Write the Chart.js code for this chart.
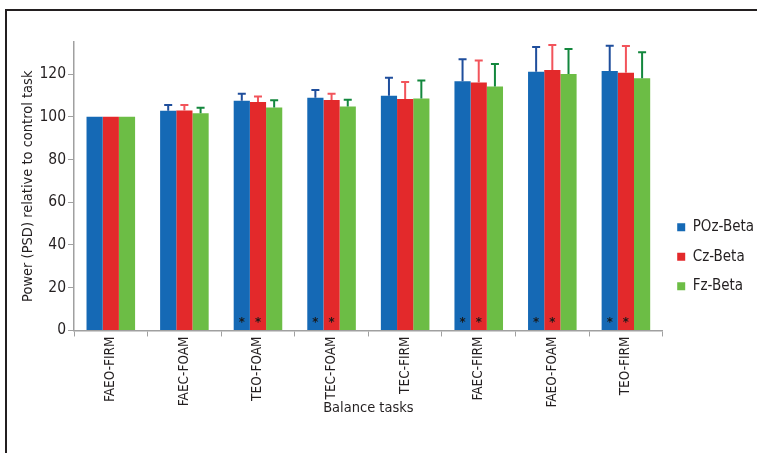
<!DOCTYPE html>
<html>
<head>
<meta charset="utf-8">
<script src="https://cdn.jsdelivr.net/npm/chart.js@4.4.1/dist/chart.umd.min.js"></script>
<style>
  body { margin: 0; background: #fff; }
  #wrap { position: relative; width: 757px; height: 453px; }
  #frame { position: absolute; left: 5px; top: 9px; right: 0; bottom: 0;
           border-left: 2px solid #231f20; border-top: 2px solid #231f20; }
  canvas { position: absolute; left: 0; top: 0; }
</style>
</head>
<body>
<div id="wrap">
  <div id="frame"></div>
  <canvas id="canvas" width="757" height="453"></canvas>
</div>
<script>
var tasks = ['FAEO-FIRM', 'FAEC-FOAM', 'TEO-FOAM', 'TEC-FOAM', 'TEC-FIRM', 'FAEC-FIRM', 'FAEO-FOAM', 'TEO-FIRM'];

var pozBeta = [100, 102.8, 107.5, 108.9, 109.8, 116.6, 121.1, 121.4];
var czBeta  = [100, 103.0, 106.9, 107.8, 108.3, 116.1, 121.9, 120.6];
var fzBeta  = [100, 101.7, 104.4, 104.8, 108.6, 114.2, 120.0, 118.0];

var pozErr = [0, 2.7, 3.3, 3.6, 8.5, 10.3, 11.6, 11.9];
var czErr  = [0, 2.5, 2.6, 3.0, 8.0, 10.3, 11.7, 12.5];
var fzErr  = [0, 2.5, 3.3, 3.2, 8.4, 10.5, 11.7, 12.2];

// significance markers (*) shown near the bottom of the bar
var pozSig = [0, 0, 1, 1, 0, 1, 1, 1];
var czSig  = [0, 0, 1, 1, 0, 1, 1, 1];
var fzSig  = [0, 0, 0, 0, 0, 0, 0, 0];

var fontName = "'Liberation Sans Narrow', 'DejaVu Sans Condensed', sans-serif";
var textColor = '#231f20';

var errorBars = {
    id: 'errorBars',
    afterDatasetsDraw: function(chart) {
        var ctx = chart.ctx;
        var yScale = chart.scales.y;
        chart.data.datasets.forEach(function(ds, i) {
            var meta = chart.getDatasetMeta(i);
            meta.data.forEach(function(bar, j) {
                var x = bar.x;
                // error bar (upward only)
                if (ds.errors[j] > 0) {
                    var yTop = yScale.getPixelForValue(ds.data[j] + ds.errors[j]);
                    ctx.save();
                    ctx.strokeStyle = ds.errorColor;
                    ctx.lineWidth = 2;
                    ctx.beginPath();
                    ctx.moveTo(x, bar.y);
                    ctx.lineTo(x, yTop);
                    ctx.moveTo(x - 4, yTop);
                    ctx.lineTo(x + 4, yTop);
                    ctx.stroke();
                    ctx.restore();
                }
                if (ds.sig[j]) {
                    ctx.save();
                    ctx.fillStyle = '#1a1a1a';
                    ctx.font = 'bold 13px ' + fontName;
                    ctx.textAlign = 'center';
                    ctx.textBaseline = 'middle';
                    ctx.fillText('*', x, yScale.getPixelForValue(6) + 5);
                    ctx.restore();
                }
            });
        });
    }
};

var config = {
    type: 'bar',
    data: {
        labels: tasks,
        datasets: [
            {
                label: 'POz-Beta',
                backgroundColor: '#1569b5',
                errorColor: '#1f4e9c',
                data: pozBeta,
                errors: pozErr,
                sig: pozSig
            }, {
                label: 'Cz-Beta',
                backgroundColor: '#e3292b',
                errorColor: '#f2545b',
                data: czBeta,
                errors: czErr,
                sig: czSig
            }, {
                label: 'Fz-Beta',
                backgroundColor: '#6cbd45',
                errorColor: '#13873d',
                data: fzBeta,
                errors: fzErr,
                sig: fzSig
            }]
    },
    options: {
        responsive: false,
        animation: false,
        categoryPercentage: 0.66,
        barPercentage: 1,
        layout: { padding: { left: 20, top: 42, right: -7, bottom: 36 } },
        plugins: {
            tooltip: { enabled: false },
            legend: {
                position: 'right',
                title: { display: true, text: ' ', padding: { top: 0, bottom: 40 }, font: { size: 12 } },
                labels: {
                    boxWidth: 8,
                    boxHeight: 8,
                    padding: 14.5,
                    color: textColor,
                    font: { family: fontName, size: 15 }
                }
            }
        },
        scales: {
            x: {
                grid: { display: true, drawOnChartArea: false, drawTicks: true, tickLength: 6, color: '#a0a0a0' },
                border: { color: '#a0a0a0', width: 1.5 },
                ticks: {
                    minRotation: 90, maxRotation: 90,
                    color: textColor,
                    font: { family: fontName, size: 13.5 },
                    padding: 0
                },
                title: {
                    display: true,
                    text: 'Balance tasks',
                    color: textColor,
                    font: { family: fontName, size: 14.5 },
                    padding: { top: -8, bottom: 0 }
                }
            },
            y: {
                min: 0,
                max: 135,
                afterBuildTicks: function(axis) {
                    axis.ticks = axis.ticks.filter(function(t) { return t.value % 20 === 0; });
                },
                grid: { display: true, drawOnChartArea: false, drawTicks: true, tickLength: 6, color: '#a0a0a0' },
                border: { color: '#a0a0a0', width: 1.5 },
                ticks: {
                    stepSize: 20,
                    color: textColor,
                    font: { family: fontName, size: 15.5 },
                    padding: 2
                },
                title: {
                    display: true,
                    text: 'Power (PSD) relative to control task',
                    color: textColor,
                    font: { family: fontName, size: 14.5 },
                    padding: { top: 0, bottom: 0 }
                }
            }
        }
    },
    plugins: [errorBars]
};

window.onload = function() {
    var ctx = document.getElementById('canvas').getContext('2d');
    window.myBar = new Chart(ctx, config);
};
</script>
</body>
</html>
